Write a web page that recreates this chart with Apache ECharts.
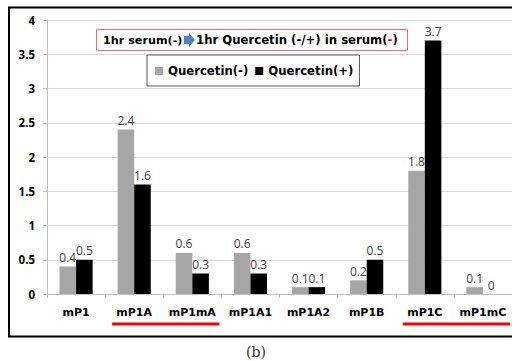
<!DOCTYPE html>
<html><head><meta charset="utf-8">
<script src="https://cdn.jsdelivr.net/npm/echarts@6/dist/echarts.min.js"></script>
<style>html,body{margin:0;padding:0;background:#fff}#c{width:512px;height:361px}</style>
</head><body><div id="c"></div>
<script>
const categories = ['mP1','mP1A','mP1mA','mP1A1','mP1A2','mP1B','mP1C','mP1mC'];
const quercetinMinus = [0.4, 2.4, 0.6, 0.6, 0.1, 0.2, 1.8, 0.1];
const quercetinPlus = [0.5, 1.6, 0.3, 0.3, 0.1, 0.5, 3.7, 0];
const seriesNames = ['Quercetin(-)', 'Quercetin(+)'];
const titleLeft = '1hr serum(-)';
const titleRight = '1hr Quercetin (-/+) in serum(';
const caption = '(b)';

const FONT = 'Open Sans';
const BFONT = 'DejaVu Sans';
const chart = echarts.init(document.getElementById('c'), null, {renderer: 'svg'});
const labelStyle = {show: true, position: 'top', distance: 3, color: '#404040', fontSize: 12, fontFamily: FONT};
const option = {
  animation: false,
  grid: {left: 47, top: 20, width: 466, bottom: 67},
  legend: {
    left: 147, top: 55, width: 209, height: 33,
    padding: [10, 6, 9, 8], itemGap: 7,
    borderColor: '#595959', borderWidth: 1,
    itemWidth: 8, itemHeight: 8, icon: 'rect',
    textStyle: {fontFamily: BFONT, fontWeight: 'bold', fontSize: 11.7, color: '#000'},
    data: seriesNames
  },
  xAxis: {
    type: 'category', data: categories,
    axisLine: {lineStyle: {color: '#bfbfbf'}},
    axisTick: {show: true, length: 4, lineStyle: {color: '#bfbfbf'}},
    axisLabel: {fontFamily: BFONT, fontWeight: 'bold', fontSize: 11, color: '#000', margin: 13, interval: 0}
  },
  yAxis: {
    type: 'value', min: 0, max: 4, interval: 0.5,
    axisLine: {show: true, lineStyle: {color: '#bfbfbf'}},
    axisTick: {show: true, length: 4, lineStyle: {color: '#bfbfbf'}},
    splitLine: {lineStyle: {color: '#d9d9d9', width: 1}},
    axisLabel: {fontFamily: FONT, fontWeight: 'bold', fontSize: 11.5, color: '#000', margin: 12}
  },
  series: [
    {name: seriesNames[0], type: 'bar', data: quercetinMinus, barGap: '0%', barCategoryGap: '43%',
     itemStyle: {color: '#a6a6a6'}, label: labelStyle},
    {name: seriesNames[1], type: 'bar', data: quercetinPlus, barGap: '0%', barCategoryGap: '43%',
     itemStyle: {color: '#000000'}, label: labelStyle}
  ]
};
chart.setOption(option);

// decorations positioned from the axis
const cx = i => chart.convertToPixel({xAxisIndex: 0}, categories[i]);
const half = 466 / categories.length / 2;
const ul = (a, b) => ({type: 'line', shape: {x1: cx(a) - half + 7, y1: 324, x2: cx(b) + half - 2, y2: 324},
  style: {stroke: '#ff0000', lineWidth: 3}, z: 10});
chart.setOption({
  graphic: [
    {type: 'rect', shape: {x: 9, y: 7.5, width: 520, height: 329}, style: {fill: 'none', stroke: '#000', lineWidth: 2}, z: 20},
    {type: 'rect', shape: {x: 96.5, y: 29.5, width: 311, height: 21}, style: {fill: '#fff', stroke: '#f26b6b', lineWidth: 1}, z: 20},
    {type: 'text', x: 103, y: 40, style: {text: titleLeft, fontFamily: BFONT, fontWeight: 'bold', fontSize: 11.2, fill: '#000', verticalAlign: 'middle'}, z: 21},
    {type: 'polygon', shape: {points: [[184, 36], [189, 36], [189, 33], [195, 40], [189, 47], [189, 44], [184, 44]]}, style: {fill: '#4f81bd'}, z: 21},
    {type: 'text', x: 196, y: 40, style: {
      text: titleRight + '{r|-}' + ')', fontFamily: BFONT, fontWeight: 'bold', fontSize: 11.7, fill: '#000', verticalAlign: 'middle',
      rich: {r: {fill: '#ff0000', fontFamily: BFONT, fontWeight: 'bold', fontSize: 11.7}}}, z: 21},
    ul(1, 2), ul(6, 7),
    {type: 'text', x: 256, y: 352, style: {text: caption, fontFamily: 'DejaVu Serif', fontSize: 14, fill: '#333', align: 'center', verticalAlign: 'middle'}, z: 21}
  ]
});
</script></body></html>
